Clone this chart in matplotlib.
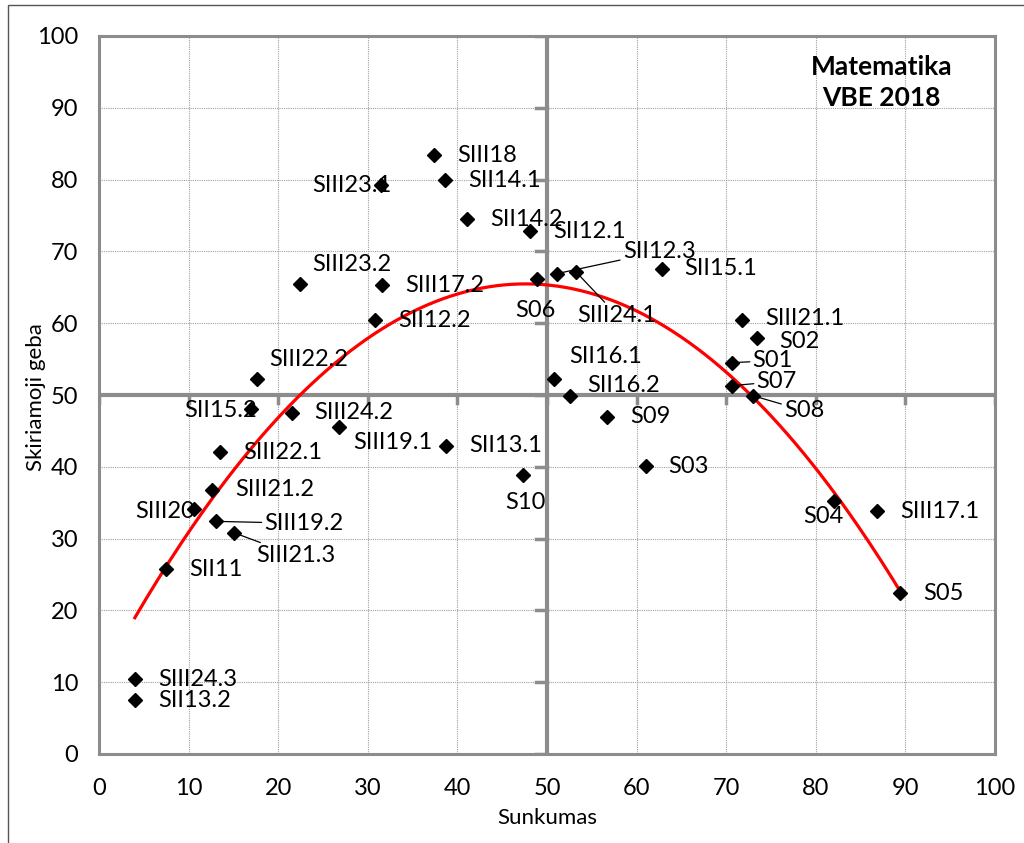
import numpy as np
import matplotlib.pyplot as plt
from matplotlib.patches import Rectangle

# ---------- data ----------
labels = ["SIII18", "SII14.1", "SIII23.1", "SII14.2", "SII12.1", "SII12.3", "SIII24.1",
          "S06", "SII15.1", "SIII23.2", "SIII17.2", "SII12.2", "SIII21.1", "S02",
          "S01", "S07", "S08", "SIII22.2", "SII16.1", "SII16.2", "SII15.2", "SIII24.2",
          "SIII19.1", "SIII22.1", "SIII21.2", "SIII20", "SIII19.2", "SIII21.3", "SII11",
          "SII13.1", "S10", "S09", "S03", "S04", "SIII17.1", "S05", "SIII24.3", "SII13.2"]
sunkumas = [37.4, 38.6, 31.5, 41.1, 48.1, 51.1, 53.2,
            48.9, 62.8, 22.4, 31.6, 30.8, 71.8, 73.4,
            70.6, 70.6, 73.0, 17.6, 50.8, 52.6, 17.0, 21.5,
            26.8, 13.5, 12.6, 10.6, 13.1, 15.1, 7.5,
            38.7, 47.3, 56.7, 61.0, 82.0, 86.8, 89.4, 4.0, 4.0]
geba = [83.4, 79.9, 79.2, 74.5, 72.8, 66.9, 67.2,
        66.2, 67.6, 65.5, 65.3, 60.4, 60.5, 58.0,
        54.5, 51.3, 49.9, 52.2, 52.2, 49.8, 48.0, 47.5,
        45.6, 42.0, 36.8, 34.1, 32.4, 30.8, 25.7,
        42.9, 38.9, 47.0, 40.1, 35.2, 33.8, 22.4, 10.4, 7.5]
ticks = [0, 10, 20, 30, 40, 50, 60, 70, 80, 90, 100]

# label placement (pixel offsets from point, alignment, leader line)
default_off = (23, 0, "left", False)
label_style = {
    "SIII23.1": (-69, 0, "left", False),
    "SII12.3": (66, 22, "left", True),
    "SIII24.1": (2, -44, "left", True),
    "S06": (-2, -32, "center", False),
    "SIII23.2": (13, 19, "left", False),
    "SIII21.1": (23, 1, "left", False),
    "S02": (23, -4, "left", False),
    "S01": (21, 2, "left", True),
    "S07": (25, 4, "left", True),
    "S08": (31, -15, "left", True),
    "SIII22.2": (13, 20, "left", False),
    "SII16.1": (15, 23, "left", False),
    "SII16.2": (17, 11, "left", False),
    "SII15.2": (6, -1, "right", False),
    "SIII19.1": (14, -16, "left", False),
    "SIII20": (1, -2, "right", False),
    "SIII19.2": (48, -2, "left", True),
    "SIII21.3": (22, -23, "left", True),
    "S10": (3, -28, "center", False),
    "S04": (10, -15, "right", False),
}

plt.rcParams['font.family'] = ['Lato', 'DejaVu Sans']

fig = plt.figure(figsize=(10.24, 8.43), dpi=100)
ax = fig.add_axes([99 / 1024, 1 - 754 / 843, 896 / 1024, 718 / 843])

# outer chart border
fig.patches.append(Rectangle((8 / 1024, -0.1), 1.2, 1 - 5 / 843 + 0.1, transform=fig.transFigure,
                             fill=False, edgecolor="#555555", linewidth=1))

ax.set_xlim(0, 100)
ax.set_ylim(0, 100)
ax.set_xticks(ticks)
ax.set_yticks(ticks)
ax.grid(True, color="#a0a0a0", linestyle=(0, (1, 1)), linewidth=0.8)
ax.set_axisbelow(True)
for s in ax.spines.values():
    s.set_color("#8c8c8c")
    s.set_linewidth(2.2)
ax.tick_params(length=0, labelsize=17)
ax.tick_params(axis="x", pad=17)
ax.tick_params(axis="y", pad=15)

# central axes crossing at 50
ax.axhline(50, color="#8c8c8c", linewidth=3, zorder=1.5)
ax.axvline(50, color="#8c8c8c", linewidth=3, zorder=1.5)
for t in ticks:
    ax.plot([t, t], [50, 48.9], color="#8c8c8c", linewidth=2.5, zorder=1.5)
    ax.plot([50, 48.8], [t, t], color="#8c8c8c", linewidth=2.5, zorder=1.5)

# quadratic trend line
coef = np.polyfit(sunkumas, geba, 2)
xs = np.linspace(min(sunkumas), max(sunkumas), 200)
ax.plot(xs, np.polyval(coef, xs), color="red", linewidth=2.3, zorder=3)

ax.plot(sunkumas, geba, linestyle="none", marker="D", markersize=7.5,
        color="black", zorder=4)

for lab, x, y in zip(labels, sunkumas, geba):
    dx, dy, ha, leader = label_style.get(lab, default_off)
    ax.annotate(lab, (x, y), xytext=(dx, dy), textcoords="offset pixels",
                ha=ha, va="center", fontsize=17, zorder=5,
                arrowprops=dict(arrowstyle="-", color="black", lw=0.9,
                                shrinkA=0, shrinkB=4) if leader else None)

ax.text(0.873, 0.935, "Matematika\nVBE 2018", transform=ax.transAxes, ha="center", va="center",
        fontsize=19, fontweight="bold", linespacing=1.35)

ax.set_xlabel("Sunkumas", fontsize=16, labelpad=7)
fig.text(36 / 1024, 1 - 397 / 843, "Skiriamoji geba", rotation=90, ha="center", va="center",
         fontsize=16)

fig.savefig("out.png", dpi=100)
